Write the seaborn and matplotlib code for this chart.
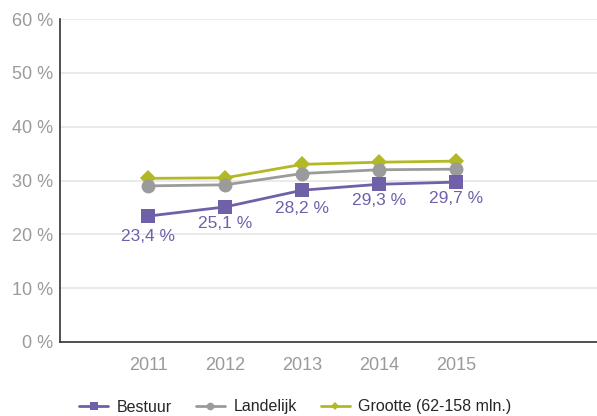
import matplotlib
matplotlib.use("Agg")
import matplotlib.pyplot as plt
from matplotlib.lines import Line2D
import seaborn as sns
import pandas as pd

years = ["2011", "2012", "2013", "2014", "2015"]
bestuur = [23.4, 25.1, 28.2, 29.3, 29.7]
landelijk = [29.0, 29.2, 31.3, 32.0, 32.1]
grootte = [30.4, 30.5, 33.0, 33.4, 33.6]
series_names = ["Bestuur", "Landelijk", "Grootte (62-158 mln.)"]
bestuur_labels = ["23,4 %", "25,1 %", "28,2 %", "29,3 %", "29,7 %"]
yticks = [0, 10, 20, 30, 40, 50, 60]
ytick_labels = ["0 %", "10 %", "20 %", "30 %", "40 %", "50 %", "60 %"]

colors = {"Bestuur": "#6f60a8", "Landelijk": "#9b9b9b", "Grootte (62-158 mln.)": "#b3b826"}
markers = {"Bestuur": "s", "Landelijk": "o", "Grootte (62-158 mln.)": "D"}
msizes = {"Bestuur": 10, "Landelijk": 10, "Grootte (62-158 mln.)": 8}

sns.set_style("white")
plt.rcParams["font.family"] = ["Liberation Sans", "DejaVu Sans"]

df = pd.DataFrame({
    "x": list(range(len(years))) * 3,
    "value": bestuur + landelijk + grootte,
    "series": sum([[n] * len(years) for n in series_names], []),
})

fig = plt.figure(figsize=(5.97, 4.16), dpi=100)
ax = fig.add_axes([60 / 597, 74 / 416, 537 / 597, 323 / 416])

for name in ["Grootte (62-158 mln.)", "Landelijk", "Bestuur"]:
    sub = df[df["series"] == name]
    sns.lineplot(data=sub, x="x", y="value", ax=ax, color=colors[name],
                 marker=markers[name], markersize=msizes[name], markeredgewidth=0,
                 linewidth=2, legend=False, zorder=3)

label_offsets = [-15, -12, -13, -12, -12]
for i, (v, lab) in enumerate(zip(bestuur, bestuur_labels)):
    ax.annotate(lab, (i, v), xytext=(0, label_offsets[i]), textcoords="offset points",
                ha="center", va="center", fontsize=12.5, color=colors["Bestuur"])

ax.set_xlim(-1.15, 5.83)
ax.set_ylim(0, 60)
ax.set_xticks(range(len(years)))
ax.set_xticklabels(years)
ax.set_yticks(yticks)
ax.set_yticklabels(ytick_labels)
ax.set_xlabel("")
ax.set_ylabel("")
ax.tick_params(axis="both", length=0, colors="#9a9a9a", labelsize=13)
ax.tick_params(axis="x", pad=11)
ax.tick_params(axis="y", pad=5)
ax.yaxis.grid(True, color="#e8e8e8", linewidth=1.3)
ax.set_axisbelow(True)
for s in ["top", "right"]:
    ax.spines[s].set_visible(False)
ax.spines["left"].set_color("#333333")
ax.spines["bottom"].set_color("#333333")
ax.spines["left"].set_linewidth(1.2)
ax.spines["bottom"].set_linewidth(1.2)

handles = [Line2D([0], [0], color=colors[n], marker=markers[n], markersize=msizes[n] * 0.55,
                  markeredgewidth=0, linewidth=2) for n in series_names]
fig.legend(handles, series_names, loc="center", bbox_to_anchor=(0.495, 9 / 416),
           ncol=3, frameon=False, fontsize=11.5, handlelength=1.8, columnspacing=1.5,
           handletextpad=0.55)

fig.savefig("out.png", dpi=100)
